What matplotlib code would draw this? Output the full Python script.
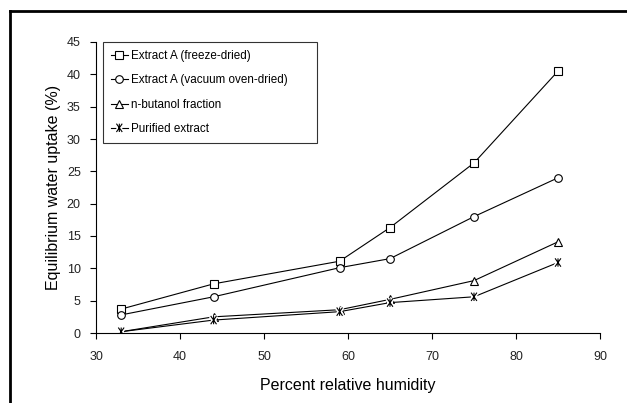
import matplotlib
matplotlib.use("Agg")
import matplotlib.pyplot as plt
from matplotlib.lines import Line2D
from matplotlib.path import Path
import matplotlib.patheffects as pe

plt.rcParams["font.family"] = ["Liberation Sans", "DejaVu Sans"]

# data
humidity = [33, 44, 59, 65, 75, 85]
freeze_dried = [3.7, 7.6, 11.1, 16.3, 26.3, 40.5]
vacuum_dried = [2.8, 5.6, 10.1, 11.5, 18.0, 24.0]
butanol = [0.2, 2.5, 3.6, 5.2, 8.1, 14.1]
purified = [0.2, 2.0, 3.3, 4.7, 5.6, 10.9]

labels = ["Extract A (freeze-dried)", "Extract A (vacuum oven-dried)",
          "n-butanol fraction", "Purified extract"]

# X with a vertical bar, like the scanned asterisk marker
star = Path([(-0.7, -1), (0.7, 1), (-0.7, 1), (0.7, -1), (0, -1), (0, 1)],
            [Path.MOVETO, Path.LINETO] * 3)

W, H = 627, 403
fig = plt.figure(figsize=(W / 100, H / 100), dpi=100)
ax = fig.add_axes([96 / W, 1 - 333 / H, (600 - 96) / W, (333 - 42) / H])

kw = dict(color="black", lw=0.8, mfc="white", mec="black", mew=0.8)
halo = [pe.Stroke(linewidth=3, foreground="white"), pe.Normal()]

h1, = ax.plot(humidity, freeze_dried, marker="s", ms=5.5, label=labels[0], **kw)
h2, = ax.plot(humidity, vacuum_dried, marker="o", ms=5.5, label=labels[1], **kw)
h3, = ax.plot(humidity, butanol, marker="^", ms=5.5, label=labels[2], **kw)
ax.plot(humidity, purified, **kw)
ax.plot(humidity, purified, ls="none", marker=star, ms=6, path_effects=halo, **kw)
h4 = Line2D([], [], marker=star, ms=6, path_effects=halo, **kw)

ax.set_xlim(30, 90)
ax.set_ylim(0, 45)
ax.set_xticks(range(30, 91, 10))
ax.set_yticks(range(0, 46, 5))
for s in ["top", "right"]:
    ax.spines[s].set_visible(False)
for s in ["left", "bottom"]:
    ax.spines[s].set_linewidth(0.8)
ax.tick_params(direction="out", length=4, width=0.8, labelsize=9, pad=7,
               labelcolor="#222222")
ax.tick_params(axis="x", pad=9)
ax.set_xlabel("Percent relative humidity", fontsize=11.5, labelpad=11)
ax.set_ylabel("Equilibrium water uptake (%)", fontsize=11.5, labelpad=4)

leg = ax.legend([h1, h2, h3, h4], labels, loc="upper left",
                bbox_to_anchor=(7 / 504, 1.0, 214 / 504, 0), mode="expand",
                fontsize=8.4, frameon=True, fancybox=False, edgecolor="black",
                handlelength=1.4, handletextpad=0.3, labelspacing=1.05,
                borderpad=0.7, borderaxespad=0.0)
leg.get_frame().set_linewidth(0.8)

# outer frame (left and top edges visible)
x0 = 10 / W
y0 = 1 - 11 / H
fig.add_artist(Line2D([x0, x0], [0, y0], transform=fig.transFigure, color="black", lw=2))
fig.add_artist(Line2D([x0, 1], [y0, y0], transform=fig.transFigure, color="black", lw=2))

fig.savefig("out.png", dpi=100)
